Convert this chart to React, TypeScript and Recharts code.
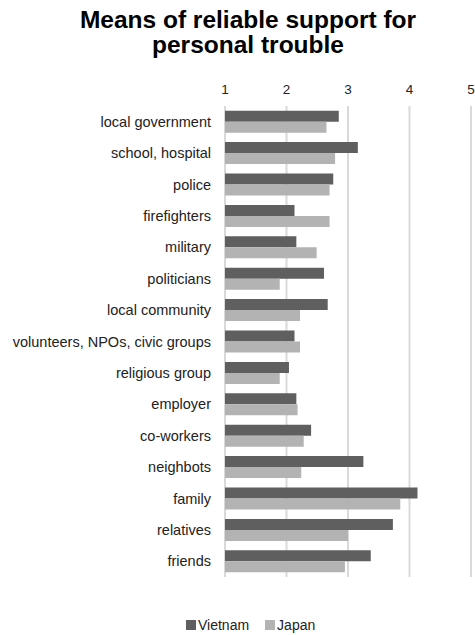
import { BarChart, Bar, XAxis, YAxis, CartesianGrid, Legend } from "recharts";

const categories = [
  "local government",
  "school, hospital",
  "police",
  "firefighters",
  "military",
  "politicians",
  "local community",
  "volunteers, NPOs, civic groups",
  "religious group",
  "employer",
  "co-workers",
  "neighbots",
  "family",
  "relatives",
  "friends",
];

const vietnam = [2.85, 3.16, 2.76, 2.13, 2.16, 2.61, 2.67, 2.13, 2.04, 2.16, 2.4, 3.25, 4.13, 3.73, 3.37];
const japan = [2.65, 2.79, 2.7, 2.7, 2.49, 1.89, 2.22, 2.22, 1.89, 2.18, 2.28, 2.24, 3.85, 3.0, 2.95];

const xTicks = [1, 2, 3, 4, 5];

const data = categories.map((name, i) => ({ name, Vietnam: vietnam[i], Japan: japan[i] }));

const FONT = "'Liberation Sans', Arial, sans-serif";
const DARK = "#5f5f5f";
const LIGHT = "#b3b3b3";

function LegendContent() {
  const item = (color: string, label: string, gap: number) => (
    <div style={{ display: "flex", alignItems: "center", marginRight: gap }}>
      <div style={{ width: 10, height: 10, background: color, marginRight: 2 }} />
      <span>{label}</span>
    </div>
  );
  return (
    <div
      style={{
        display: "flex",
        alignItems: "center",
        height: 20,
        fontFamily: FONT,
        fontSize: 14,
        color: "#222",
      }}
    >
      {item(DARK, "Vietnam", 16)}
      {item(LIGHT, "Japan", 0)}
    </div>
  );
}

export default function App() {
  return (
    <div style={{ position: "absolute", left: 0, top: 0, width: 475, height: 635 }}>
      <div
        style={{
          position: "absolute",
          left: 48,
          top: 7,
          width: 400,
          textAlign: "center",
          fontFamily: FONT,
          fontWeight: "bold",
          fontSize: 24.5,
          lineHeight: "25px",
          color: "#000",
        }}
      >
        Means of reliable support for
        <br />
        personal trouble
      </div>
      <BarChart
        width={475}
        height={635}
        data={data}
        layout="vertical"
        margin={{ top: 76, right: 4, bottom: 38, left: 0 }}
        barCategoryGap="15%"
        barGap={0}
      >
        <CartesianGrid horizontal={false} stroke="#d9d9d9" strokeWidth={2} />
        <XAxis
          type="number"
          orientation="top"
          domain={[1, 5]}
          ticks={xTicks}
          height={30}
          axisLine={false}
          tickLine={false}
          tickSize={0}
          tickMargin={12}
          tick={{ fontSize: 13.5, fill: "#222", fontFamily: FONT }}
          interval={0}
          allowDataOverflow
        />
        <YAxis
          type="category"
          dataKey="name"
          width={225}
          axisLine={false}
          tickLine={false}
          tickSize={0}
          tickMargin={14}
          interval={0}
          tick={{ fontSize: 14.5, fill: "#222", fontFamily: FONT }}
        />
        <Legend
          content={<LegendContent />}
          wrapperStyle={{ top: 615, left: 186, bottom: "auto", width: "auto" }}
        />
        <Bar dataKey="Vietnam" fill={DARK} isAnimationActive={false} />
        <Bar dataKey="Japan" fill={LIGHT} isAnimationActive={false} />
      </BarChart>
    </div>
  );
}
